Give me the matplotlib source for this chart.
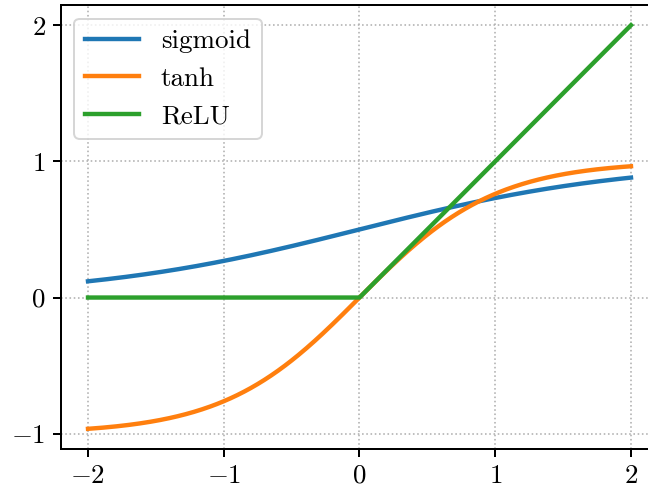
import numpy as np
import matplotlib
matplotlib.use("Agg")
import matplotlib.pyplot as plt

plt.rcParams.update({
    "font.family": "serif",
    "font.serif": ["cmr10"],
    "mathtext.fontset": "cm",
    "axes.formatter.use_mathtext": True,
    "font.size": 13.5,
    "axes.linewidth": 1.0,
    "xtick.major.width": 1.0,
    "ytick.major.width": 1.0,
    "xtick.major.size": 4.0,
    "ytick.major.size": 4.0,
})

# Activation functions on [-2, 2]
x = np.linspace(-2, 2, 401)
labels = ["sigmoid", "tanh", "ReLU"]
sigmoid = 1.0 / (1.0 + np.exp(-x))
tanh = np.tanh(x)
relu = np.maximum(0.0, x)
xticks = [-2, -1, 0, 1, 2]
yticks = [-1, 0, 1, 2]

fig = plt.figure(figsize=(4.5, 488 / 144), dpi=144)
W, H = 648, 488
left, right, top, bottom = 60.85, 658.15, 5.0, 449.0
ax = fig.add_axes([left / W, (H - bottom) / H, (right - left) / W, (bottom - top) / H])

for y, lab in zip([sigmoid, tanh, relu], labels):
    ax.plot(x, y, lw=2.2, label=lab)

ax.set_xticks(xticks)
ax.set_yticks(yticks)
ax.grid(True, linestyle=":", color="#b0b0b0", linewidth=0.8)
ax.legend(loc="upper left")

fig.savefig("out.png", dpi=144)
